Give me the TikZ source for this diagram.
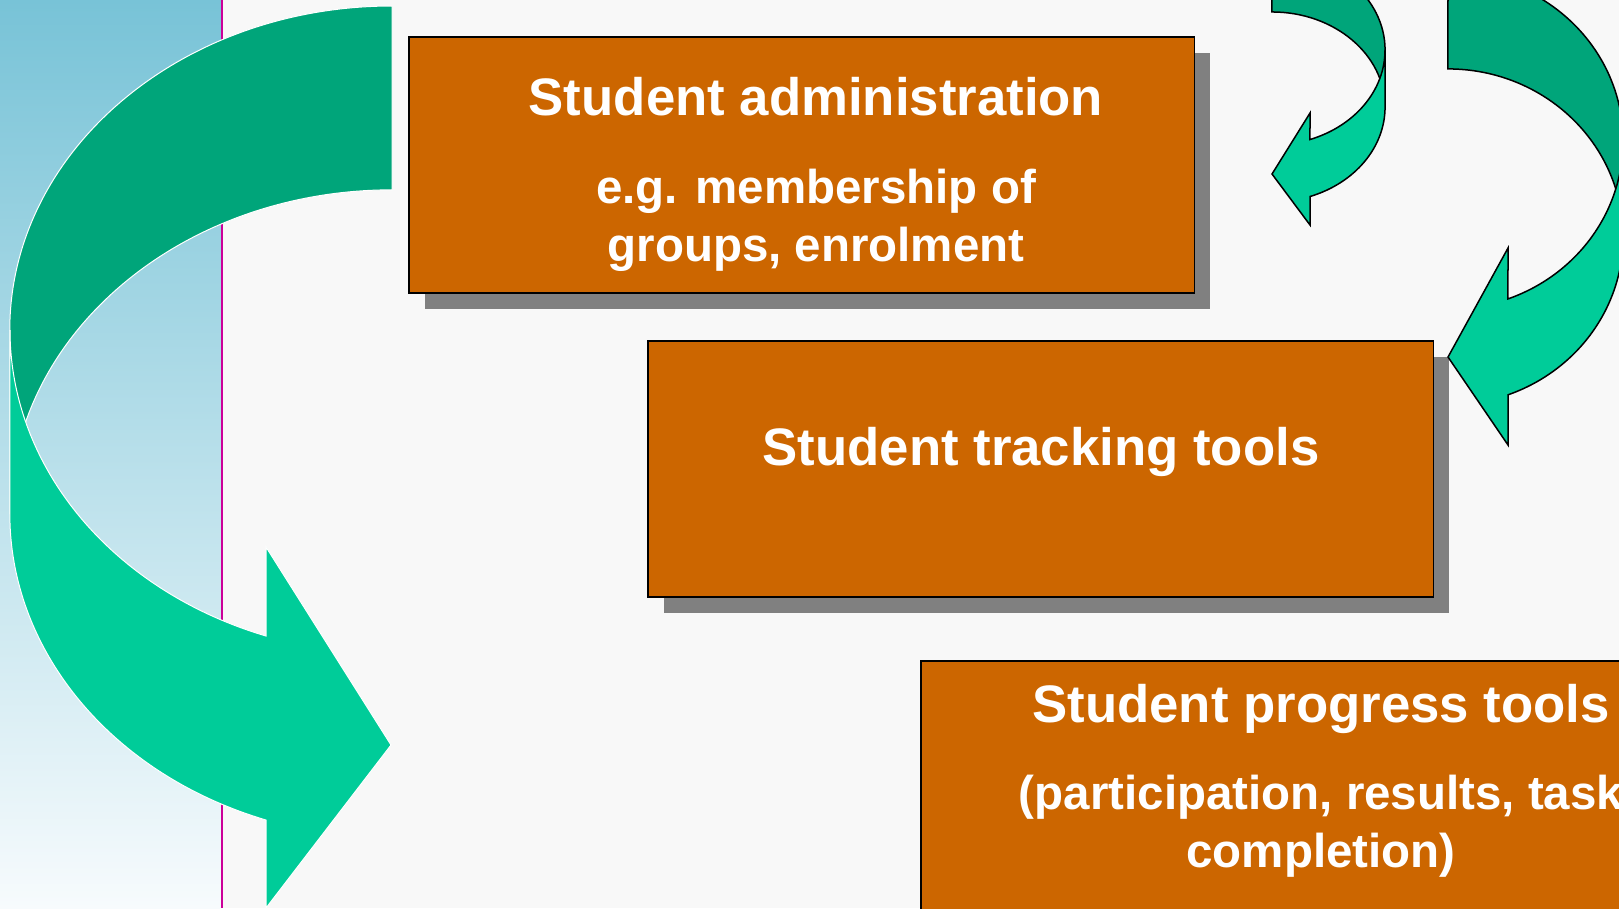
\documentclass[tikz,border=0pt]{standalone}
\usepackage{fontspec}
\setmainfont{Liberation Sans}
\usetikzlibrary{shadows}

\definecolor{boxorange}{HTML}{CC6600}
\definecolor{shadegray}{HTML}{808080}
\definecolor{darkgreen}{HTML}{00A57A}
\definecolor{lightgreen}{HTML}{00CC99}
\definecolor{panelblue}{HTML}{78C3D7}
\definecolor{panelwhite}{HTML}{F7FBFD}
\definecolor{slidegray}{HTML}{F8F8F8}
\definecolor{rulemagenta}{HTML}{CC0099}

\tikzset{
  toolbox/.style={draw=black, line width=0.15mm, fill=boxorange,
    minimum width=7.85cm, minimum height=2.56cm, inner sep=0pt,
    drop shadow={shadow xshift=1.6mm, shadow yshift=-1.6mm, fill=shadegray, opacity=1}},
  boxtitle/.style={text=white, font=\bfseries\fontsize{15}{18}\selectfont, anchor=base, inner sep=0pt},
  boxnote/.style={text=white, font=\bfseries\fontsize{13.5}{16}\selectfont, anchor=base, inner sep=0pt},
  backband/.style={fill=darkgreen},
  frontband/.style={fill=lightgreen},
}

\begin{document}
\begin{tikzpicture}[x=0.01cm, y=-0.01cm]
  \useasboundingbox (0,0) rectangle (1619,908);
  \clip (0,0) rectangle (1619,908);
  \fill[slidegray] (0,0) rectangle (1619,908);
  \shade[top color=panelblue, bottom color=panelwhite] (0,0) rectangle (221,908);
  \draw[rulemagenta, line width=0.2mm] (222,0) -- (222,908);

  % big arrow on the left
  \filldraw[backband, draw=white, line width=0.1mm] (392,6)
    arc[start angle=90, end angle=180, x radius=3.82cm, y radius=3.24cm] -- (10,514)
    arc[start angle=180, end angle=90, x radius=3.82cm, y radius=3.24cm] -- cycle;
  \filldraw[frontband, draw=white, line width=0.1mm] (10,330)
    arc[start angle=180, end angle=250.74, x radius=3.82cm, y radius=3.24cm]
    -- (266,547) -- (391,745) -- (266,908) -- (266,820)
    arc[start angle=250.74, end angle=180, x radius=3.82cm, y radius=3.24cm] -- cycle;

  % boxes
  \node[toolbox] (admin) at (801.5,165) {};
  \node[toolbox] (tracking) at (1040.5,469) {};
  \node[toolbox] (progress) at (1313.5,789) {};

  \node[boxtitle] (admin_title) at (816,115) {Student administration};
  \node[boxnote] (admin_note1) at (816,203) {e.g. membership of};
  \node[boxnote] (admin_note2) at (816,261) {groups, enrolment};
  \node[boxtitle] (tracking_title) at (1041,465) {Student tracking tools};
  \node[boxtitle] (progress_title) at (1321,722) {Student progress tools};
  \node[boxnote] (progress_note1) at (1321,809) {(participation, results, task};
  \node[boxnote] (progress_note2) at (1321,867) {completion)};

  % small arrow, top right
  \filldraw[backband, draw=black, line width=0.15mm] (1272,-45)
    arc[start angle=90, end angle=0, x radius=1.13cm, y radius=0.95cm] -- (1385,107)
    arc[start angle=0, end angle=90, x radius=1.13cm, y radius=0.95cm] -- cycle;
  \filldraw[frontband, draw=black, line width=0.15mm] (1385,50)
    arc[start angle=0, end angle=-70.35, x radius=1.13cm, y radius=0.95cm]
    -- (1310,113) -- (1272,174) -- (1310,225) -- (1310,196.5)
    arc[start angle=-70.35, end angle=0, x radius=1.13cm, y radius=0.95cm] -- cycle;

  % big arrow, right edge
  \filldraw[backband, draw=black, line width=0.15mm] (1448,-27)
    arc[start angle=90, end angle=0, x radius=1.75cm, y radius=1.68cm] -- (1623,237)
    arc[start angle=0, end angle=90, x radius=1.75cm, y radius=1.68cm] -- cycle;
  \filldraw[frontband, draw=black, line width=0.15mm] (1623,141)
    arc[start angle=0, end angle=-69.95, x radius=1.75cm, y radius=1.68cm]
    -- (1508,248) -- (1448,357) -- (1508,445) -- (1508,394.8)
    arc[start angle=-69.95, end angle=0, x radius=1.75cm, y radius=1.68cm] -- cycle;
\end{tikzpicture}
\end{document}
